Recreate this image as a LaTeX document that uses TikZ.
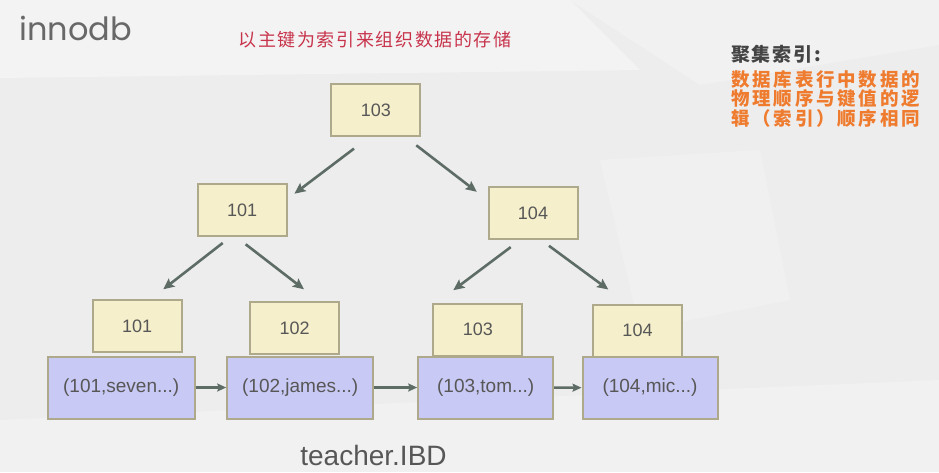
\documentclass[tikz,border=0pt]{standalone}
\usepackage{fontspec}
\setmainfont{Liberation Sans}
\newfontfamily\titlefont{Poppins}
\newfontfamily\cjkcaption[LetterSpace=9]{Noto Sans CJK SC}
\newfontfamily\cjknote[LetterSpace=15]{Noto Sans CJK SC}
\usepackage{tikz}
\usetikzlibrary{calc}
\usetikzlibrary{arrows.meta}
\definecolor{bggray}{HTML}{EDEDED}
\definecolor{keyfill}{HTML}{F5EFCB}
\definecolor{keyedge}{HTML}{ADA98A}
\definecolor{recfill}{HTML}{C9C9F5}
\definecolor{arrgray}{HTML}{5E6C66}
\definecolor{txtgray}{HTML}{575757}
\definecolor{notered}{HTML}{C8344C}
\definecolor{noteorange}{HTML}{EF7B2E}
\definecolor{notegray}{HTML}{444444}
\tikzset{>={Stealth[length=11pt,width=10pt,inset=2pt]}}

\begin{document}
\begin{tikzpicture}[x=1pt,y=-1pt]
        \tikzstyle{keynode} = [draw=keyedge, fill=keyfill, line width=2pt, inner sep=0pt,
          minimum width=89pt, minimum height=52pt, text=txtgray, font=\fontsize{18}{18}\selectfont]
        \tikzstyle{recnode} = [draw=keyedge, fill=recfill, line width=2pt, inner sep=0pt,
          minimum height=62pt, text=txtgray, font=\fontsize{19}{19}\selectfont]
        \tikzstyle{link} = [->, draw=arrgray, fill=arrgray, line width=2.6pt]
        \tikzstyle{hlink} = [-{Stealth[length=9pt,width=8pt,inset=1.5pt]}, draw=arrgray, line width=2.4pt]
        % background
        \fill[bggray] (0,0) rectangle (939,472);
        \fill[white, opacity=0.35] (0,0) -- (570,0) -- (640,70) -- (0,78) -- cycle;
        \fill[white, opacity=0.25] (570,0) -- (939,0) -- (939,45) -- (700,85) -- cycle;
        \fill[white, opacity=0.18] (600,160) -- (760,150) -- (790,300) -- (640,330) -- cycle;
        \fill[white, opacity=0.25] (0,420) -- (939,380) -- (939,472) -- (0,472) -- cycle;
        \useasboundingbox (0,0) rectangle (939,472);

        % tree: root and inner level
        \node[keynode] (root) at (375.8,110) {103};
        \node[keynode] (m101) at (242.2,210) {101};
        \node[keynode] (m104) at (533,212.8) {104};

        % leaf keys
        \node[keynode] (key1) at (137.2,326) {101};
        \node[keynode] (key2) at (294.7,328) {102};
        \node[keynode] (key3) at (477.8,329.5) {103};
        \node[keynode] (key4) at (637.5,330.5) {104};

        % rows
        \node[recnode, minimum width=147pt] (rec1) at (121.2,387.5) {(101,seven...)};
        \node[recnode, minimum width=146pt] (rec2) at (300.2,387.5) {(102,james...)};
        \node[recnode, minimum width=135pt] (rec3) at (485.7,387.5) {(103,tom...)};
        \node[recnode, minimum width=135pt] (rec4) at (650,387.8) {(104,mic...)};

        \draw[link] ($(root.south)+(-21.8,11.6)$) -- ($(m101.north east)+(6.7,10.7)$);
        \draw[link] ($(root.south east)+(-5,8.3)$) -- ($(m104.north west)+(-10.7,6)$);
        \draw[link] ($(m101.south)+(-19.5,6)$) -- ($(key1.north)+(26,-9.7)$);
        \draw[link] ($(m101.south)+(3.5,7.3)$) -- ($(key2.north)+(9.3,-11.7)$);
        \draw[link] ($(m104.south)+(-22.3,7.3)$) -- ($(key3.north)+(-24.5,-12.3)$);
        \draw[link] ($(m104.south)+(16,6)$) -- ($(key4.north)+(-29.2,-14)$);

        \draw[hlink] (rec1) -- (rec2);
        \draw[hlink] (rec2) -- (rec3);
        \draw[hlink] (rec3) -- (rec4);

        % texts
        \node[anchor=base west, inner sep=0pt, text=txtgray!90,
          font=\titlefont\fontsize{32}{32}\selectfont] (engine) at (19,40) {innodb};
        \node[anchor=base, inner sep=0pt, text=notered,
          font=\cjkcaption\fontsize{18}{18}\selectfont] (caption) at (375,46) {以主键为索引来组织数据的存储};
        \node[anchor=base, inner sep=0pt, text=txtgray,
          font=\fontsize{28}{28}\selectfont] (file) at (373.5,465) {teacher.IBD};
        \node[anchor=base west, inner sep=0pt, text=notegray,
          font=\cjkcaption\bfseries\fontsize{19}{19}\selectfont] (notetitle) at (731,61.5) {聚集索引:};
        \foreach \line [count=\i] in {数据库表行中数据的, 物理顺序与键值的逻, 辑（索引）顺序相同}
          \node[anchor=base west, inner sep=0pt, text=noteorange,
            font=\cjknote\bfseries\fontsize{18.5}{18.5}\selectfont] (note\i) at (731,66.3+19.7*\i) {\line};
      \end{tikzpicture}
\end{document}
